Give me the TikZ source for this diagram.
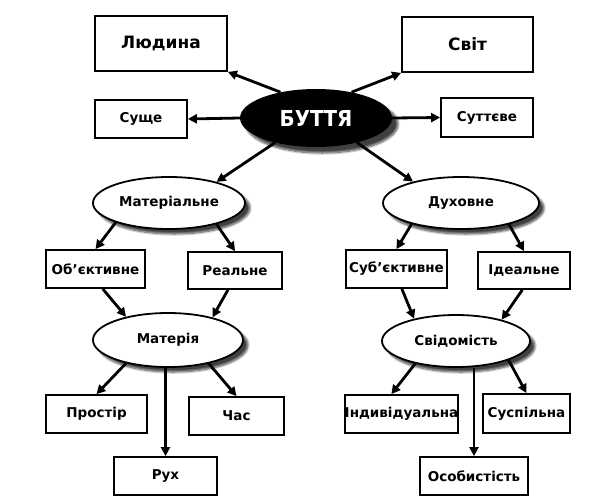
\documentclass[tikz,border=0pt]{standalone}
\usepackage{fontspec}
\setmainfont{DejaVu Sans}
\newfontfamily\condfont{DejaVu Sans Condensed}
\usetikzlibrary{shapes.geometric,arrows.meta,shadows.blur}
\begin{document}
\begin{tikzpicture}[x=1pt,y=-1pt,
  box/.style={draw,line width=1.8pt,fill=white,inner sep=0pt,font=\bfseries\fontsize{13.5}{15}\selectfont},
  bigbox/.style={box,font=\bfseries\fontsize{17}{19}\selectfont},
  oval/.style={ellipse,draw,line width=1.8pt,fill=white,inner sep=0pt,
     font=\bfseries\fontsize{13.5}{15}\selectfont,
     blur shadow={shadow xshift=5pt,shadow yshift=-5pt,shadow blur steps=8,shadow opacity=75}},
  arr/.style={line width=2.8pt,-{Triangle[length=9pt,width=9pt]}}]
\useasboundingbox (0,0) rectangle (593,499);
% top level
\node[ellipse,fill=black,text=white,inner sep=0pt,minimum width=152,minimum height=58,
  font=\condfont\bfseries\fontsize{22}{24}\selectfont,
  blur shadow={shadow xshift=6pt,shadow yshift=-6pt,shadow blur steps=10,shadow opacity=75}] (butt) at (316,118) {БУТТЯ};
\node[bigbox,minimum width=132,minimum height=55] (lyud) at (161,43.5) {Людина};
\node[bigbox,minimum width=131,minimum height=55] (svit) at (467.5,44.5) {Світ};
\node[box,minimum width=92,minimum height=38] (sush) at (141,119) {Суще};
\node[box,minimum width=92,minimum height=39] (sutt) at (487,117.5) {Суттєве};
% second level
\node[oval,minimum width=152,minimum height=52] (mat) at (169,203) {Матеріальне};
\node[oval,minimum width=156,minimum height=52] (duh) at (461,203) {Духовне};
\node[box,minimum width=99,minimum height=38] (obj) at (95.5,269) {Об’єктивне};
\node[box,minimum width=94,minimum height=37] (real) at (235,270.5) {Реальне};
\node[box,minimum width=101,minimum height=38] (subj) at (396.5,269) {Суб’єктивне};
\node[box,minimum width=92,minimum height=37] (ide) at (524,270.5) {Ідеальне};
% third level
\node[oval,minimum width=150,minimum height=54] (matr) at (168,340) {Матерія};
\node[oval,minimum width=148,minimum height=52] (svid) at (456,341) {Свідомість};
\node[box,minimum width=101,minimum height=38] (prost) at (96.5,414) {Простір};
\node[box,minimum width=95,minimum height=38] (chas) at (236.5,416) {Час};
\node[box,minimum width=103,minimum height=38] (rukh) at (165.5,476) {Рух};
\node[box,minimum width=113,minimum height=38] (ind) at (401.5,414) {Індивідуальна};
\node[box,minimum width=87,minimum height=39] (susp) at (526.5,413.5) {Суспільна};
\node[box,minimum width=108,minimum height=38] (osob) at (474,476) {Особистість};
% connectors
\draw[arr] (butt.144) -- (lyud.south east);
\draw[arr] (butt.36) -- (svit.south west);
\draw[arr] (butt.west) -- (sush.east);
\draw[arr] (butt.east) -- (sutt.west);
\draw[arr] (butt.211) -- (mat.24);
\draw[arr] (butt.329) -- (duh.156);
\draw[arr] (mat.200) -- (obj.north);
\draw[arr] (mat.336) -- (real.north);
\draw[arr] (duh.203) -- (subj.north);
\draw[arr] (duh.336) -- (ide.north);
\draw[arr] (obj.290) -- (matr.151);
\draw[arr] (real.250) -- (matr.27);
\draw[arr] (subj.285) -- (svid.152);
\draw[arr] (ide.265) -- (svid.25);
\draw[arr] (matr.209) -- (prost.north);
\draw[arr] (matr.330) -- (chas.north);
\draw[arr] (rukh.north |- matr.south) -- (rukh.north);
\draw[arr] (svid.209) -- (ind.117);
\draw[arr] (svid.340) -- (susp.north);
\draw[arr] (osob.north |- svid.south) -- (osob.north);
\end{tikzpicture}
\end{document}
